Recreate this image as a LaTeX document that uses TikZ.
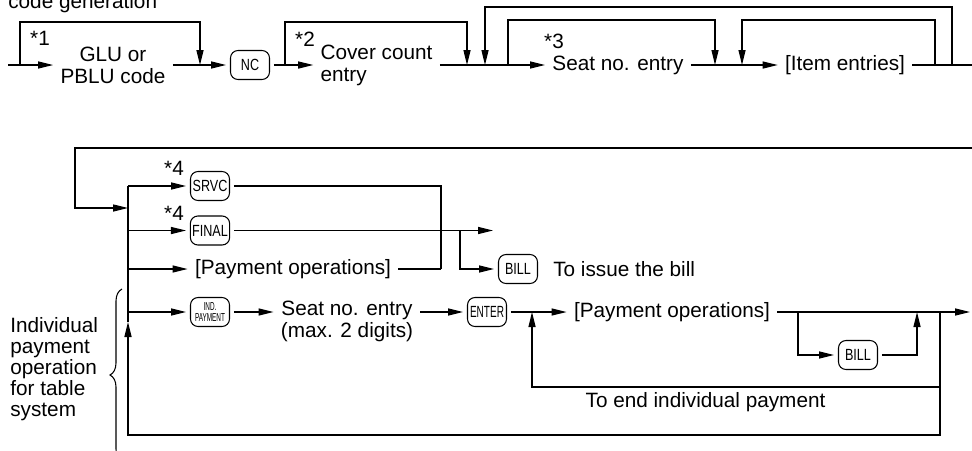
\documentclass[tikz,border=0pt]{standalone}
\usepackage{fontspec}
\setmainfont{Liberation Sans}
\newfontfamily\keyfont[FakeStretch=0.78]{Liberation Sans}
\newfontfamily\narrowkeyfont[FakeStretch=0.62]{Liberation Sans}
\newfontfamily\tinykeyfont[FakeStretch=0.55]{Liberation Sans}
\usepackage{tikz}
\usetikzlibrary{arrows.meta,positioning,decorations.pathreplacing}

\begin{document}
\begin{tikzpicture}[
  txt/.style={inner xsep=4pt,inner ysep=2pt,font=\fontsize{11.8}{12.5}\selectfont},
  key/.style={draw,rounded corners=1.5mm,line width=0.6pt,minimum width=7.8mm,
              minimum height=5.8mm,inner sep=1pt,outer sep=2.5pt,
              font=\keyfont\fontsize{9.2}{9.5}\selectfont},
  star/.style={inner sep=0pt,font=\fontsize{11.8}{12.5}\selectfont},
  wire/.style={line width=0.75pt},
  flow/.style={wire,-{Triangle[length=3mm,width=1.4mm]}}
]
\useasboundingbox (0,0) rectangle (19.44,-9);

% top row
\node[txt,anchor=base west,inner xsep=0pt] (head) at (0.16,-0.16) {code generation};
\coordinate (in) at (0.16,-1.3);
\node[txt,align=center] (glu) at (2.26,-1.3) {GLU or\\PBLU code};
\node[key] (nc) at (5.0,-1.3) {NC};
\node[txt,align=left] (cover) at (7.53,-1.3) {Cover count\\entry};
\node[txt] (seat) at (12.36,-1.3) {Seat no. entry};
\node[txt] (items) at (16.9,-1.3) {[Item entries]};
\coordinate (out) at (19.6,-1.3);
\node[star] at (0.8,-0.76) {*1};
\node[star] at (6.1,-0.78) {*2};
\node[star] at (11.08,-0.82) {*3};

\draw[flow] (in) -- (glu);
\draw[flow] (glu) -- (nc);
\draw[flow] (nc) -- (cover);
\draw[flow] (cover) -- (seat);
\draw[flow] (seat) -- (items);
\draw[wire] (items) -- (out);

% skip loops
\coordinate (s1a) at (0.4,-1.3);   \coordinate (s1b) at (4.0,-1.3);
\coordinate (s2a) at (5.7,-1.3);   \coordinate (s2b) at (9.34,-1.3);
\coordinate (s3a) at (10.16,-1.3); \coordinate (s3b) at (14.3,-1.3);
\coordinate (r1a) at (18.7,-1.3);  \coordinate (r1b) at (14.84,-1.3);
\coordinate (r2a) at (19.04,-1.3); \coordinate (r2b) at (9.7,-1.3);
\draw[flow] (s1a) -- ++(0,0.86) -| (s1b);
\draw[flow] (s2a) -- ++(0,0.86) -| (s2b);
\draw[flow] (s3a) -- ++(0,0.9) -| (s3b);
\draw[flow] (r1a) -- ++(0,0.9) -| (r1b);
\draw[flow] (r2a) -- ++(0,1.16) -| (r2b);

% bottom part
\coordinate (ret) at (19.6,-2.96);
\coordinate (lft) at (1.5,-4.16);
\coordinate (bus) at (2.56,-3.72);
\coordinate (busin) at (2.56,-4.16);
\coordinate (busup) at (2.56,-6.44);
\coordinate (busbot) at (2.56,-8.7);
\draw[flow] (ret) -| (lft) -- (busin);
\draw[wire] (bus) -- (busup);

\node[key] (srvc) at (4.2,-3.72) {SRVC};
\node[key] (final) at (4.2,-4.61) {FINAL};
\node[txt] (pay1) at (5.86,-5.38) {[Payment operations]};
\node[key,font=\tinykeyfont\fontsize{6.6}{6}\selectfont,align=center] (ind) at (4.2,-6.24) {IND.\\PAYMENT};
\node[star] at (3.48,-3.36) {*4};
\node[star] at (3.48,-4.26) {*4};

\draw[flow] (srvc -| bus) -- (srvc);
\draw[flow] (final -| bus) -- (final);
\draw[flow] (pay1 -| bus) -- (pay1);
\draw[flow] (ind -| bus) -- (ind);

\coordinate (mrg) at (8.82,-5.38);
\coordinate (fork1) at (9.2,-4.61);
\coordinate (finout) at (9.86,-4.61);
\node[key] (bill1) at (10.36,-5.38) {BILL};
\node[txt,right=0.08cm of bill1] (issue) {To issue the bill};
\draw[wire] (srvc) -| (mrg);
\draw[wire] (pay1) -- (mrg);
\draw[flow] (final) -- (finout);
\draw[flow] (fork1) |- (bill1);

\node[txt,align=center] (seat2) at (6.94,-6.42) {Seat no. entry\\(max. 2 digits)};
\node[key,font=\narrowkeyfont\fontsize{9.2}{9.5}\selectfont] (enter) at (9.74,-6.24) {ENTER};
\node[txt] (pay2) at (13.44,-6.24) {[Payment operations]};
\node[key] (bill2) at (17.16,-7.1) {BILL};
\coordinate (entup) at (10.64,-6.24);
\coordinate (fork2) at (15.96,-6.24);
\coordinate (join2) at (18.34,-6.24);
\coordinate (j1) at (18.8,-6.24);
\coordinate (j2) at (18.8,-7.74);
\coordinate (payout) at (19.4,-6.24);

\draw[flow] (ind) -- (ind -| seat2.west);
\draw[flow] (seat2.east |- enter) -- (enter);
\draw[flow] (enter) -- (pay2);
\draw[flow] (pay2) -- (payout);
\draw[flow] (fork2) |- (bill2);
\draw[flow] (bill2) -| (join2);
\draw[flow] (j2) -| (entup);
\draw[flow] (j1) |- (busbot) -- (busup);
\node[txt] (endpay) at (14.11,-8.04) {To end individual payment};

% side note
\node[txt,align=left,anchor=west,font=\fontsize{11.8}{12}\selectfont] (note) at (0.06,-7.38)
  {Individual\\payment\\operation\\for table\\system};
\coordinate (brlo) at (2.44,-9.22);
\coordinate (brhi) at (2.44,-5.78);
\draw[line width=0.6pt,decorate,decoration={brace,amplitude=0.24cm}] (brlo) -- (brhi);
\end{tikzpicture}
\end{document}
